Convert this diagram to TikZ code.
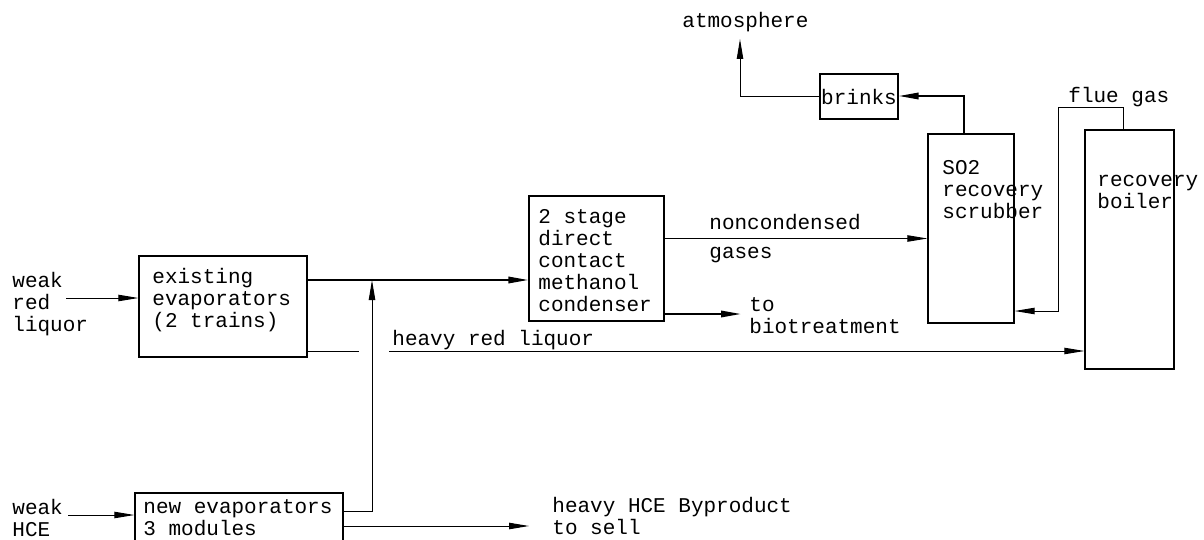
\documentclass[tikz,border=0pt]{standalone}
\usepackage{fontspec}
\newfontfamily\cadfont{Liberation Mono}
\usetikzlibrary{arrows.meta,positioning}

\begin{document}
\begin{tikzpicture}[
    x=0.5pt, y=-0.5pt,
    font=\cadfont\fontsize{10.5}{11}\selectfont,
    >={Triangle[length=10pt,width=3.2pt]},
    unit/.style={draw, line width=0.6pt, inner sep=0pt},
    txt/.style={align=left, inner sep=0pt, anchor=west},
    line/.style={line width=0.5pt},
    arrow/.style={->, line width=0.5pt},
    heavy/.style={->, line width=1pt}
]
\useasboundingbox (0,0) rectangle (1204,540);
\clip (0,0) rectangle (1204,540);
\node[unit, minimum width=84pt, minimum height=50.5pt] (exist) at (223,306.5) {};
\node[unit, minimum width=104pt, minimum height=31pt] (newevap) at (239,524) {};
\node[unit, minimum width=67.5pt, minimum height=62.5pt] (cond) at (596.5,258.5) {};
\node[unit, minimum width=43pt, minimum height=94.5pt] (scrub) at (971,228.5) {};
\node[unit, minimum width=44.5pt, minimum height=119.5pt] (boiler) at (1129.5,249.5) {};
\node[unit, minimum width=39pt, minimum height=22.5pt] (brinks) at (859,96.5) {brinks};
\node[txt] (wrl) at (12,304) {weak\\red\\liquor};
\node[txt] (existtxt) at (152,300) {existing\\evaporators\\(2 trains)};
\node[txt] (whce) at (12,518) {weak\\HCE};
\node[txt] (newtxt) at (143,518) {new evaporators\\3 modules};
\node[txt] (condtxt) at (538,261) {2 stage\\direct\\contact\\methanol\\condenser};
\node[txt] (ncg) at (709,238.5) {noncondensed\\[3.5pt]gases};
\node[txt] (biotxt) at (749,316) {to\\biotreatment};
\node[txt] (hrl) at (392,340) {heavy red liquor};
\node[txt] (selltxt) at (552,515.5) {heavy HCE Byproduct\\to sell};
\node[txt] (scrubtxt) at (942,190) {SO2\\recovery\\scrubber};
\node[txt] (boilertxt) at (1097,192) {recovery\\boiler};
\node[txt] (atmtxt) at (682,22) {atmosphere};
\node[txt] (fluetxt) at (1068,97) {flue gas};
\coordinate (wrlin) at (66,298);
\coordinate (whcein) at (68,515);
\coordinate (mix) at (372,280);
\coordinate (hcejoin) at (372,511);
\coordinate (hrl1) at (359,351);
\coordinate (hrl2) at (389,351);
\coordinate (bio) at (741,314);
\coordinate (stack) at (964,96);
\coordinate (atm) at (740,39);
\coordinate (flue) at (1123,108);
\coordinate (fluebend) at (1058,108);
\coordinate (fluein) at (1058,311);
\coordinate (sell) at (529,526);
\draw[arrow] (wrlin) -- (exist.west |- wrlin);
\draw[heavy] (exist.east |- mix) -- (cond.west |- mix);
\draw[arrow] (newevap.east |- hcejoin) -| (mix);
\draw[line] (exist.east |- hrl1) -- (hrl1);
\draw[arrow] (hrl2) -- (boiler.west |- hrl2);
\draw[arrow] (cond.east |- ncg) -- (scrub.west |- ncg);
\draw[heavy] (cond.east |- bio) -- (bio);
\draw[heavy] (scrub.north -| stack) -- (stack) -- (brinks.east |- stack);
\draw[arrow] (brinks.west) -| (atm);
\draw[arrow] (boiler.north -| flue) |- (fluebend) |- (scrub.east |- fluein);
\draw[arrow] (whcein) -- (newevap.west |- whcein);
\draw[arrow] (newevap.east |- sell) -- (sell);
\end{tikzpicture}
\end{document}
